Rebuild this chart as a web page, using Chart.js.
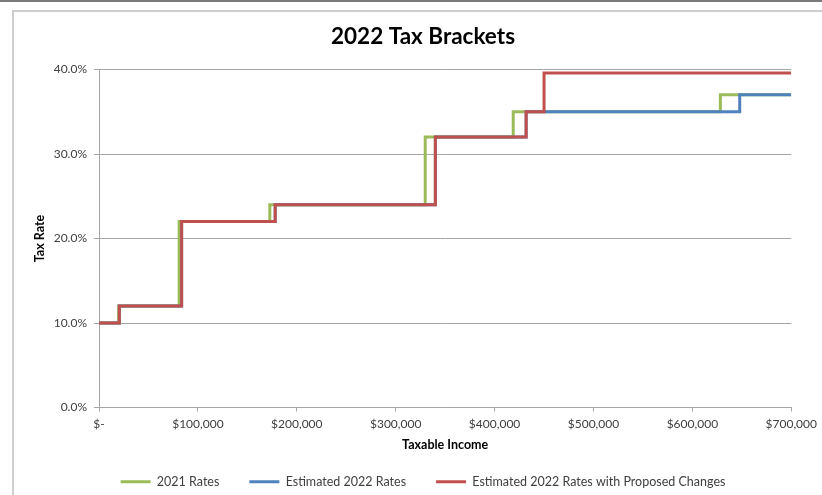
<!DOCTYPE html>
<html>
<head>
<meta charset="utf-8">
<script src="https://cdn.jsdelivr.net/npm/chart.js@4"></script>
<style>
  body { margin: 0; background: #fff; }
  #wrap { position: relative; width: 822px; height: 495px; overflow: hidden; }
  #topline { position: absolute; left: 0; top: 0; width: 822px; height: 2px; background: #7a7a7a; }
  #frame { position: absolute; left: 12px; top: 10px; width: 830px; height: 500px; border: 2px solid #cfcfcf; pointer-events: none; }
  canvas { position: absolute; left: 0; top: 0; }
</style>
</head>
<body>
<div id="wrap">
  <div id="topline"></div>
  <div id="frame"></div>
  <canvas id="myChart" width="822" height="495"></canvas>
</div>
<script>
  // limites das faixas (renda tributável) e alíquotas
  const brackets2021 = [0, 19900, 81050, 172750, 329850, 418850, 628300, 700000];
  const rates2021 = [10, 12, 22, 24, 32, 35, 37, 37];

  const brackets2022 = [0, 20550, 83550, 178150, 340100, 431900, 647850, 700000];
  const rates2022 = [10, 12, 22, 24, 32, 35, 37, 37];

  const bracketsProposed = [0, 20550, 83550, 178150, 340100, 431900, 450000, 700000];
  const ratesProposed = [10, 12, 22, 24, 32, 35, 39.6, 39.6];

  const seriesNames = ['2021 Rates', 'Estimated 2022 Rates', 'Estimated 2022 Rates with Proposed Changes'];
  const yTicks = [0, 10, 20, 30, 40];
  const xTicks = [0, 100000, 200000, 300000, 400000, 500000, 600000, 700000];

  function toPoints(xs, ys) {
    return xs.map((x, i) => ({ x: x, y: ys[i] }));
  }

  const fontFamily = 'Lato, "Open Sans", sans-serif';
  const gridColor = '#a6a6a6';

  const ctx = document.getElementById('myChart');
  const myChart = new Chart(ctx, {
    type: 'line',
    data: {
      datasets: [
        {
          label: seriesNames[0],
          data: toPoints(brackets2021, rates2021),
          borderColor: '#9bbb59',
          backgroundColor: '#9bbb59',
          order: 3
        },
        {
          label: seriesNames[1],
          data: toPoints(brackets2022, rates2022),
          borderColor: '#4f81bd',
          backgroundColor: '#4f81bd',
          order: 2
        },
        {
          label: seriesNames[2],
          data: toPoints(bracketsProposed, ratesProposed),
          borderColor: '#c0504d',
          backgroundColor: '#c0504d',
          order: 1
        }
      ]
    },
    options: {
      responsive: false,
      animation: false,
      layout: {
        padding: { left: 54, right: 30, top: 12, bottom: -3 }
      },
      elements: {
        line: { borderWidth: 3, stepped: 'before', tension: 0 },
        point: { radius: 0, hoverRadius: 0, borderWidth: 3 }
      },
      scales: {
        x: {
          type: 'linear',
          min: 0,
          max: 700000,
          afterFit: s => { s.height = 38; },
          afterBuildTicks: s => { s.ticks = xTicks.map(v => ({ value: v })); },
          grid: { drawOnChartArea: false, drawTicks: true, tickLength: 4, color: gridColor },
          border: { color: gridColor, width: 1 },
          ticks: {
            padding: 5,
            color: '#404040',
            font: { family: fontFamily, size: 12 },
            maxRotation: 0,
            callback: v => v === 0 ? '$-' : '$' + v.toLocaleString('en-US')
          },
          title: {
            display: true,
            text: 'Taxable Income',
            color: '#000',
            font: { family: fontFamily, size: 12.5, weight: 'bold' },
            padding: { top: 0, bottom: -6.5 }
          }
        },
        y: {
          min: 0,
          max: 40,
          afterFit: s => { s.width = 45; },
          afterBuildTicks: s => { s.ticks = yTicks.map(v => ({ value: v })); },
          grid: { color: gridColor, tickLength: 5 },
          border: { color: gridColor, width: 1 },
          ticks: {
            padding: 7,
            color: '#404040',
            font: { family: fontFamily, size: 12 },
            callback: v => v.toFixed(1) + '%'
          },
          title: {
            display: true,
            text: 'Tax Rate',
            color: '#000',
            font: { family: fontFamily, size: 12.5, weight: 'bold' },
            padding: { top: -21.5, bottom: 0 }
          }
        }
      },
      plugins: {
        title: {
          display: true,
          text: '2022 Tax Brackets',
          color: '#000',
          font: { family: fontFamily, size: 22.5, weight: 'bold' },
          padding: { top: 11.5, bottom: 19 }
        },
        legend: {
          position: 'bottom',
          labels: {
            usePointStyle: true,
            pointStyle: 'line',
            pointStyleWidth: 30,
            boxHeight: 12,
            padding: 30,
            color: '#404040',
            font: { family: fontFamily, size: 12.5 },
            sort: (a, b) => a.datasetIndex - b.datasetIndex
          }
        },
        tooltip: { enabled: false }
      }
    }
  });
</script>
</body>
</html>
